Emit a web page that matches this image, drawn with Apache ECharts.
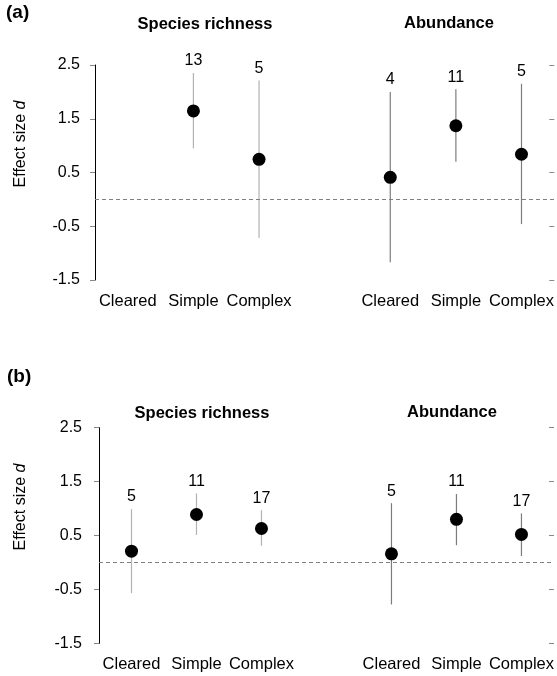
<!DOCTYPE html>
<html>
<head>
<meta charset="utf-8">
<script src="https://cdn.jsdelivr.net/npm/echarts@6/dist/echarts.min.js"></script>
<style>
  html, body { margin: 0; padding: 0; background: #fff; }
  #chart { width: 557px; height: 676px; }
</style>
</head>
<body>
<div id="chart"></div>
<script>
// Category slots: three habitat types per response, with an empty spacer slot between groups
const categories = ['Cleared', 'Simple', 'Complex', '', 'Cleared', 'Simple', 'Complex'];
const yTicks = [-1.5, -0.5, 0.5, 1.5, 2.5];

// Panel (a): mean effect size, confidence limits and number of studies
const aMean = [null, 1.645, 0.745, null, 0.41, 1.37, 0.84];
const aLow  = [null, 0.95, -0.72, null, -1.17, 0.70, -0.46];
const aHigh = [null, 2.35, 2.21, null, 2.00, 2.05, 2.15];
const aN    = [null, 13, 5, null, 4, 11, 5];

// Panel (b)
const bMean = [0.21, 0.89, 0.63, null, 0.16, 0.80, 0.52];
const bLow  = [-0.57, 0.51, 0.31, null, -0.78, 0.32, 0.12];
const bHigh = [0.99, 1.28, 0.97, null, 1.10, 1.27, 0.91];
const bN    = [5, 11, 17, null, 5, 11, 17];

const FONT = '"Liberation Sans", Arial, Helvetica, sans-serif';

function rows(mean, low, high, n) {
  const out = [];
  mean.forEach((m, i) => {
    if (m !== null) out.push([i, m, low[i], high[i], n[i]]);
  });
  return out;
}

// Whisker from lower to upper limit, filled dot at the mean, study count above
function renderWhisker(params, api) {
  const i = api.value(0);
  const mid = api.coord([i, api.value(1)]);
  const top = api.coord([i, api.value(3)]);
  const bot = api.coord([i, api.value(2)]);
  const lineColor = i < 3 ? '#b2b2b2' : '#7c7c7c';
  return {
    type: 'group',
    children: [
      { type: 'line', shape: { x1: top[0], y1: top[1], x2: bot[0], y2: bot[1] },
        style: { stroke: lineColor, lineWidth: 1.2 } },
      { type: 'circle', shape: { cx: mid[0], cy: mid[1], r: 6.5 },
        style: { fill: '#000' } },
      { type: 'text', x: top[0], y: top[1] - 4,
        style: { text: String(api.value(4)), align: 'center', verticalAlign: 'bottom',
                 font: '16px ' + FONT, fill: '#000' } }
    ]
  };
}

// Two overlaid value axes so that the ticks cross the axis line
function yAxisPair(gridIndex, labelMargin) {
  const base = {
    gridIndex, type: 'value', min: -1.5, max: 2.5,
    splitLine: { show: false }
  };
  return [
    Object.assign({}, base, {
      axisLine: { show: true, lineStyle: { color: '#000', width: 1 } },
      axisTick: { show: true, length: 5, customValues: yTicks, lineStyle: { color: '#888' } },
      axisLabel: { show: true, customValues: yTicks, margin: labelMargin,
                   formatter: v => v.toFixed(1), fontSize: 16, color: '#000', fontFamily: FONT }
    }),
    Object.assign({}, base, {
      axisLine: { show: false },
      axisTick: { show: true, inside: true, length: 5, customValues: yTicks, lineStyle: { color: '#888' } },
      axisLabel: { show: false }
    })
  ];
}

function xAxis(gridIndex) {
  return {
    gridIndex, type: 'category', data: categories, boundaryGap: true,
    axisLine: { show: false }, axisTick: { show: false },
    axisLabel: { margin: 13, fontSize: 16.5, color: '#000', fontFamily: FONT, interval: 0 }
  };
}

function series(idx, data) {
  return [
    {
      type: 'custom', xAxisIndex: idx, yAxisIndex: idx * 2,
      renderItem: renderWhisker, data, encode: { x: 0, y: [1, 2, 3] }, z: 3,
      markLine: {
        silent: true, symbol: 'none', label: { show: false },
        lineStyle: { color: '#808080', type: [4, 3], width: 1 },
        data: [{ yAxis: 0 }]
      }
    }
  ];
}

function text(x, y, str, size, bold) {
  return { type: 'text', x, y,
    style: { text: str, align: 'center', verticalAlign: 'middle',
             font: (bold ? 'bold ' : '') + size + 'px ' + FONT, fill: '#000' } };
}

function axisName(x, y) {
  return { type: 'text', x, y, rotation: Math.PI / 2,
    style: { text: '{n|Effect size }{i|d}', align: 'center', verticalAlign: 'middle',
      rich: {
        n: { fontSize: 16, fontFamily: FONT, fill: '#000' },
        i: { fontSize: 16, fontFamily: FONT, fontStyle: 'italic', fill: '#000' }
      } } };
}

const chart = echarts.init(document.getElementById('chart'), null, { renderer: 'canvas' });
const yA = yAxisPair(0, 15), yB = yAxisPair(1, 17);
chart.setOption({
  animation: false,
  backgroundColor: '#fff',
  grid: [
    { left: 95, top: 65, width: 460, height: 215 },
    { left: 99, top: 427.7, width: 455, height: 215.6 }
  ],
  xAxis: [xAxis(0), xAxis(1)],
  yAxis: [yA[0], yA[1], yB[0], yB[1]],
  series: [].concat(
    series(0, rows(aMean, aLow, aHigh, aN)),
    series(1, rows(bMean, bLow, bHigh, bN))
  ),
  graphic: [
    { type: 'text', x: 6, y: 13, style: { text: '(a)', verticalAlign: 'middle', font: 'bold 19px ' + FONT, fill: '#000' } },
    { type: 'text', x: 7, y: 377, style: { text: '(b)', verticalAlign: 'middle', font: 'bold 19px ' + FONT, fill: '#000' } },
    text(205, 24, 'Species richness', 16.5, true),
    text(449, 23, 'Abundance', 16.5, true),
    text(202, 413, 'Species richness', 16.5, true),
    text(452, 412, 'Abundance', 16.5, true),
    axisName(20.5, 144),
    axisName(20.5, 507)
  ]
});
</script>
</body>
</html>
